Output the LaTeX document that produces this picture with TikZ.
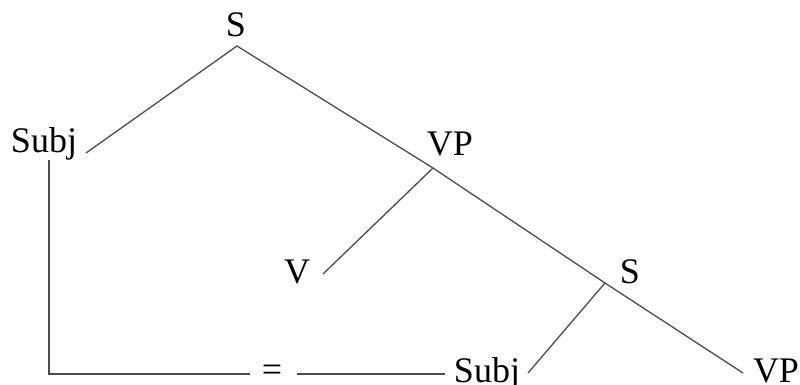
\documentclass[tikz,border=0pt]{standalone}
\usepackage{fontspec}
\setmainfont{Liberation Serif}
\begin{document}
\begin{tikzpicture}[x=1pt,y=-1pt,
  lab/.style={font=\fontsize{36}{36}\selectfont, anchor=base, inner sep=0pt, text=black},
  edge/.style={draw=black!70, line width=1.3pt}]
\useasboundingbox (0,0) rectangle (800,385);
% labels
\node[lab] (s1) at (236,37) {S};
\node[lab] (subj1) at (44,153) {Subj};
\node[lab] (vp1) at (450,155) {VP};
\node[lab] (v) at (297,283) {V};
\node[lab] (s2) at (630,283) {S};
\node[lab] (subj2) at (487,382) {Subj};
\node[lab] (vp2) at (776,382) {VP};
\node[lab] (eq) at (272,381) {=};
% junction points
\coordinate (ap1) at (237,46);
\coordinate (e1) at (86,153);
\coordinate (j1) at (433,168);
\coordinate (ev) at (323,274);
\coordinate (j2) at (605,283);
\coordinate (es) at (528,373);
\coordinate (evp) at (743,373);
\coordinate (t1) at (49,160);
\coordinate (c1) at (49,374);
\coordinate (h1) at (250,374);
\coordinate (h2) at (297,374);
\coordinate (h3) at (445,374);
% connectors
\draw[edge] (e1) -- (ap1) -- (j1) -- (j2) -- (evp);
\draw[edge] (j1) -- (ev);
\draw[edge] (j2) -- (es);
\draw[edge] (t1) -- (c1) -- (h1);
\draw[edge] (h2) -- (h3);
\end{tikzpicture}
\end{document}
